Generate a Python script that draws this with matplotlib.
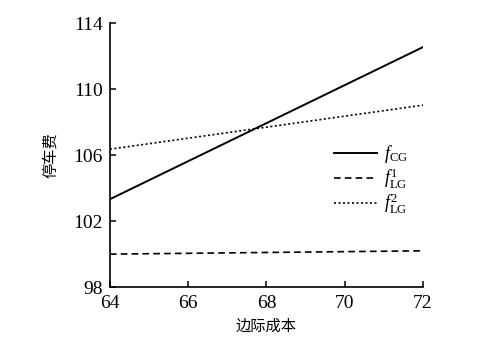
import matplotlib
matplotlib.use('Agg')
import matplotlib.pyplot as plt

# data
marginal_cost = [64, 72]
f_cg = [103.33, 112.55]
f_lg1 = [100.0, 100.2]
f_lg2 = [106.36, 109.03]

x_ticks = [64, 66, 68, 70, 72]
y_ticks = [98, 102, 106, 110, 114]

plt.rcParams['font.family'] = ['Liberation Serif', 'DejaVu Serif']
plt.rcParams['mathtext.fontset'] = 'custom'
plt.rcParams['mathtext.rm'] = 'Liberation Serif'
plt.rcParams['mathtext.it'] = 'Liberation Serif:italic'

fig = plt.figure(figsize=(4.78, 3.51), dpi=100)
ax = fig.add_axes([0.230, 0.182, 0.655, 0.752])

ax.plot(marginal_cost, f_cg, color='black', lw=1.4, ls='-',
        label=r'$f_{\mathrm{CG}}$')
ax.plot(marginal_cost, f_lg1, color='black', lw=1.2, ls=(0, (4, 2.5)),
        label=r'$f^{1}_{\mathrm{LG}}$')
ax.plot(marginal_cost, f_lg2, color='black', lw=1.2, ls=(0, (1.2, 1.5)),
        label=r'$f^{2}_{\mathrm{LG}}$')

ax.set_xlim(64, 72)
ax.set_ylim(98, 114)
ax.set_xticks(x_ticks)
ax.set_yticks(y_ticks)
ax.spines['top'].set_visible(False)
ax.spines['right'].set_visible(False)
ax.spines['left'].set_linewidth(1.2)
ax.spines['bottom'].set_linewidth(1.2)
ax.tick_params(direction='in', length=4, width=1.1, labelsize=14)
ax.tick_params(axis='x', pad=6)
ax.tick_params(axis='y', pad=5)

cjk = ['Noto Sans CJK SC', 'DejaVu Sans']
ax.set_xlabel('边际成本', family=cjk, fontsize=11, weight='medium',
              labelpad=4)
ax.set_ylabel('停车费', family=cjk, fontsize=11, weight='medium',
              labelpad=10)

leg = ax.legend(loc='upper left', bbox_to_anchor=(0.716, 0.545),
                frameon=False, handlelength=2.35, handletextpad=0.4,
                labelspacing=0.05, fontsize=13, borderpad=0,
                borderaxespad=0)

fig.savefig('out.png', dpi=100)
